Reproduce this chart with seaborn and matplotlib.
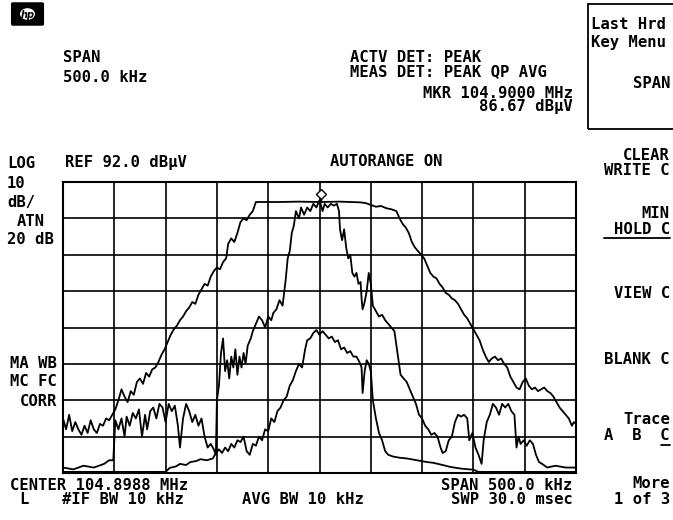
import matplotlib
matplotlib.use('Agg')
import numpy as np
import pandas as pd
import seaborn as sns
import matplotlib.pyplot as plt
from matplotlib import transforms
from matplotlib.patches import Rectangle, FancyBboxPatch, Circle
from matplotlib.lines import Line2D

sns.set_style('white')
plt.rcParams['font.family'] = ['DejaVu Sans Mono', 'DejaVu Sans']

# screen settings
ref_level = 92.0      # dBuV, top of screen
db_per_div = 10
span_khz = 500.0
marker_khz = 1.2      # 104.9000 MHz - 104.8988 MHz
marker_db = 86.67

# trace A (wide, flat top) -- offset from center in kHz / level in dBuV
a_khz = [-250, -247, -244, -241, -238, -235, -232, -229, -226, -223, -220, -217, -214, -211,
         -208, -205, -202, -199, -196, -193, -190, -187, -184, -181, -178, -175, -172, -169,
         -166, -163, -160, -157, -154, -151, -148, -145, -142, -139, -136, -133, -130, -127,
         -124, -121, -118, -115, -112, -109, -106, -103, -100, -97, -94, -91, -89, -86, -83,
         -80, -77, -74, -71, -68, -65, -62, -40, -20, 0, 20, 40, 45, 50, 55, 60, 65, 70, 75,
         78, 81, 84, 87, 90, 93, 96, 99, 102, 105, 108, 111, 114, 117, 120, 123, 126, 129,
         132, 135, 138, 141, 144, 147, 150, 153, 156, 159, 162, 165, 168, 171, 174, 177, 180,
         183, 186, 189, 192, 195, 198, 201, 204, 207, 210, 213, 216, 219, 222, 225, 228, 231,
         234, 237, 240, 243, 246, 248, 250]
a_db = [27, 24, 28, 23.5, 26, 24, 22.5, 25, 23, 26.5, 24, 23, 25.5, 25,
        27, 26.5, 28, 29.5, 32, 35, 33, 31.5, 34.5, 33.5, 37, 38, 36.5, 39.5,
        38.5, 40.5, 41, 42.5, 44.5, 46, 48, 50, 51.5, 52.5, 54, 55, 56.5, 57.5,
        59, 58.5, 61, 62.5, 64, 63.5, 66, 67.5, 68.5, 68, 70, 71, 75, 76.5, 75.5,
        78, 81, 82, 81.5, 83, 84, 86.5, 86.5, 86.6, 86.5, 86.6, 86.4, 86.2, 85.7, 85.2, 85.4, 84.8, 84.5, 84.0,
        82, 80.5, 79.5, 78, 75.5, 74, 73, 72, 71, 69, 67, 66, 65.5, 64, 63, 61.5, 61, 60,
        59.5, 58.5, 57, 55.5, 54.5, 53, 51.5, 50, 48.5, 46, 44, 42.5, 43.5, 44, 43, 43.5, 42,
        41, 38.5, 37, 35.5, 35, 37, 38, 36, 35, 35.5, 34.5, 35, 35.5, 34.5, 34, 33, 31.5,
        30, 29, 28, 27, 25, 26, 25.5]

# trace B (peaked, noisy skirts)
b_khz = [-250, -240, -230, -220, -210, -205, -201, -199, -196, -193, -190, -188, -185, -182,
         -179, -176, -173, -170, -168, -165, -162, -159, -156, -153, -150, -147, -144, -141,
         -138, -136, -133, -130, -127, -124, -121, -118, -115, -112, -109, -106, -103, -101,
         -100, -98, -96, -94, -92, -90, -88, -86, -84, -82, -80, -78, -76, -74, -72, -70,
         -67, -65, -62, -59, -56, -53, -50, -47, -45, -42, -39, -36, -33, -31, -29, -27, -25,
         -23, -20, -18, -15, -12, -9, -6, -3, 0, 3, 5, 8, 11, 14, 17, 19, 20, 22, 24, 26, 28,
         30, 32, 34, 36, 38, 40, 41, 42, 44, 46, 48, 50, 52, 54, 56, 58, 61, 64, 67, 70, 73,
         75, 77, 79, 82, 85, 88, 91, 94, 97, 100, 103, 106, 109, 112, 115, 118, 120, 123, 126,
         129, 132, 135, 138, 141, 144, 146, 149, 152, 155, 158, 160, 163, 166, 169, 172, 175,
         178, 181, 184, 187, 190, 192, 194, 196, 199, 202, 205, 208, 211, 214, 217, 222, 230,
         240, 250]
b_db = [13.5, 13, 14, 13.5, 14.5, 15.5, 15.5, 26.5, 24, 27, 22, 27.5, 25, 28.5,
        27, 29.5, 22, 28, 24, 29, 30, 27, 31, 30, 26, 31, 29, 30.5,
        25, 19, 27, 31, 29, 26, 28, 25, 27, 22, 19, 20, 18.5, 17,
        32, 36, 45, 49, 40, 43, 38, 44, 41, 46, 39, 44, 41, 45, 42, 47,
        49, 51, 53, 55, 54, 52, 55, 54, 56, 57, 59.5, 58, 65, 71, 73, 78, 80,
        84, 82, 85, 83, 85, 84, 86, 85, 87, 84, 86, 85, 86, 85.5, 86, 84, 79, 76, 79, 74, 71,
        72, 67, 66, 67, 64, 64.5, 60, 57, 59, 62, 67, 64, 58, 57, 56, 55, 55.5, 54, 53, 52, 51,
        47, 43, 39, 38, 37, 35, 33, 31, 28, 27, 25, 24, 22.5, 23, 22, 19, 17.5, 18, 21,
        22, 26, 28, 27.5, 28, 27, 21, 23, 19, 17, 14.5, 21, 26, 28, 31, 30, 28,
        31, 30, 31, 29, 28, 19, 22, 20, 21, 19.5, 21, 20, 17, 15, 14.5, 13.5, 14,
        13.5, 13.5]

# trace C (low hump in the middle)
c_khz = [-250, -150, -146, -140, -136, -130, -126, -120, -116, -110, -104, -101, -98, -95, -92,
         -89, -86, -83, -80, -77, -74, -71, -68, -65, -62, -59, -56, -53, -50, -47, -44, -41,
         -38, -35, -32, -29, -26, -23, -20, -17, -14, -12, -9, -6, -3, 0, 3, 6, 9, 12, 15, 18,
         21, 24, 27, 30, 33, 36, 39, 41, 42, 44, 46, 48, 50, 52, 55, 58, 61, 64, 67, 72, 78,
         85, 95, 105, 111, 120, 127, 138, 150, 155, 250]
c_db = [12.3, 12.3, 13.4, 13.8, 14.5, 14.2, 15, 15.3, 15.8, 15.5, 16, 17.5, 18.5, 17.5, 19,
        18, 20, 19, 21, 20.5, 22, 18, 17, 20, 19.5, 22, 21, 24, 23.5, 27, 26, 29,
        30, 32, 33, 36, 37.5, 40, 42, 41, 46, 48.5, 49, 50.5, 51.3, 50, 51, 50, 49, 49.5, 48, 48.5,
        46, 46.5, 45, 45.5, 44, 44, 42.5, 41, 34, 40, 43, 42, 40, 32, 27, 23, 21, 18, 17, 16.5, 16.2,
        16, 15.5, 15, 14.8, 14.2, 13.7, 13.2, 12.9, 12.3, 12.3]

fig = plt.figure(figsize=(6.73, 5.2), dpi=100)
W, H = 673.0, 520.0
ax = fig.add_axes([63 / W, 47 / H, 513 / W, 291 / H])

for xs, ys in [(a_khz, a_db), (b_khz, b_db), (c_khz, c_db)]:
    df = pd.DataFrame({'khz': xs, 'db': ys})
    sns.lineplot(data=df, x='khz', y='db', color='black', lw=1.3, ax=ax,
                 estimator=None, sort=False, clip_on=False)

# marker diamond, drawn just above the marker point
mk_tr = transforms.offset_copy(ax.transData, fig=fig, y=7, units='dots')
ax.plot([marker_khz], [marker_db], marker='D', ms=5, mfc='white', mec='black',
        mew=1.0, transform=mk_tr, zorder=5)
ax.plot([marker_khz, marker_khz], [marker_db, marker_db + 1.5], color='black', lw=1)

bottom = ref_level - 8 * db_per_div
ax.set_xlim(-span_khz / 2, span_khz / 2)
ax.set_ylim(bottom, ref_level)
ax.set_xticks(np.arange(-250, 251, 50))
ax.set_yticks(np.arange(bottom, ref_level + 1, db_per_div))
ax.grid(True, color='black', lw=1.2)
ax.tick_params(length=0, labelbottom=False, labelleft=False)
ax.set_xlabel('')
ax.set_ylabel('')
for s in ax.spines.values():
    s.set_color('black')
    s.set_linewidth(1.5)

FS = 11.2


def txt(x, y, s, ha='left', **kw):
    fig.text(x / W, 1 - y / H, s, ha=ha, va='center', fontsize=FS, color='black',
             weight='bold', **kw)


# HP logo
fig.patches.append(FancyBboxPatch((13 / W, 1 - 24 / H), 29 / W, 20 / H,
                                  boxstyle='round,pad=0.002', fc='black', ec='black',
                                  transform=fig.transFigure, figure=fig))
fig.patches.append(Circle((27.5 / W, 1 - 14 / H), 7.5 / W, fc='white', ec='none',
                          transform=fig.transFigure, figure=fig))
fig.text(27.5 / W, 1 - 14.5 / H, 'hp', color='black', fontsize=7, style='italic',
         weight='bold', ha='center', va='center', family='DejaVu Sans')

txt(63, 57, 'SPAN')
txt(63, 78, '500.0 kHz')
txt(350, 57, 'ACTV DET: PEAK')
txt(350, 72, 'MEAS DET: PEAK QP AVG')
txt(573, 93, 'MKR 104.9000 MHz', ha='right')
txt(573, 107, '86.67 dB\u00b5V', ha='right')

# soft key box
fig.patches.append(Rectangle((588 / W, 1 - 129 / H), 100 / W, 125 / H, fill=False,
                             ec='black', lw=1.3, transform=fig.transFigure, figure=fig))
txt(591, 24, 'Last Hrd')
txt(591, 42, 'Key Menu')
txt(670, 84, 'SPAN', ha='right')

txt(670, 155, 'CLEAR', ha='right')
txt(670, 171, 'WRITE C', ha='right')
txt(670, 214, 'MIN', ha='right')
txt(670, 230, 'HOLD C', ha='right')
fig.add_artist(Line2D([604 / W, 670 / W], [1 - 238 / H, 1 - 238 / H], color='black', lw=1.3))
txt(670, 294, 'VIEW C', ha='right')
txt(670, 360, 'BLANK C', ha='right')
txt(670, 419, 'Trace', ha='right')
txt(670, 436, 'A  B  C', ha='right')
fig.add_artist(Line2D([661 / W, 670 / W], [1 - 445 / H, 1 - 445 / H], color='black', lw=1.3))
txt(670, 484, 'More', ha='right')
txt(670, 500, '1 of 3', ha='right')

# left annotations
txt(7, 164, 'LOG')
txt(7, 183, '10')
txt(7, 202, 'dB/')
txt(17, 221, 'ATN')
txt(7, 240, '20 dB')
txt(57, 363, 'MA WB', ha='right')
txt(57, 382, 'MC FC', ha='right')
txt(57, 401, 'CORR', ha='right')

txt(65, 163, 'REF 92.0 dB\u00b5V')
txt(386, 162, 'AUTORANGE ON', ha='center')

# bottom line
txt(10, 485, 'CENTER 104.8988 MHz')
txt(572, 485, 'SPAN 500.0 kHz', ha='right')
txt(19, 500, 'L')
txt(62, 500, '#IF BW 10 kHz')
txt(242, 500, 'AVG BW 10 kHz')
txt(573, 500, 'SWP 30.0 msec', ha='right')

fig.savefig('out.png', dpi=100, facecolor='white')
